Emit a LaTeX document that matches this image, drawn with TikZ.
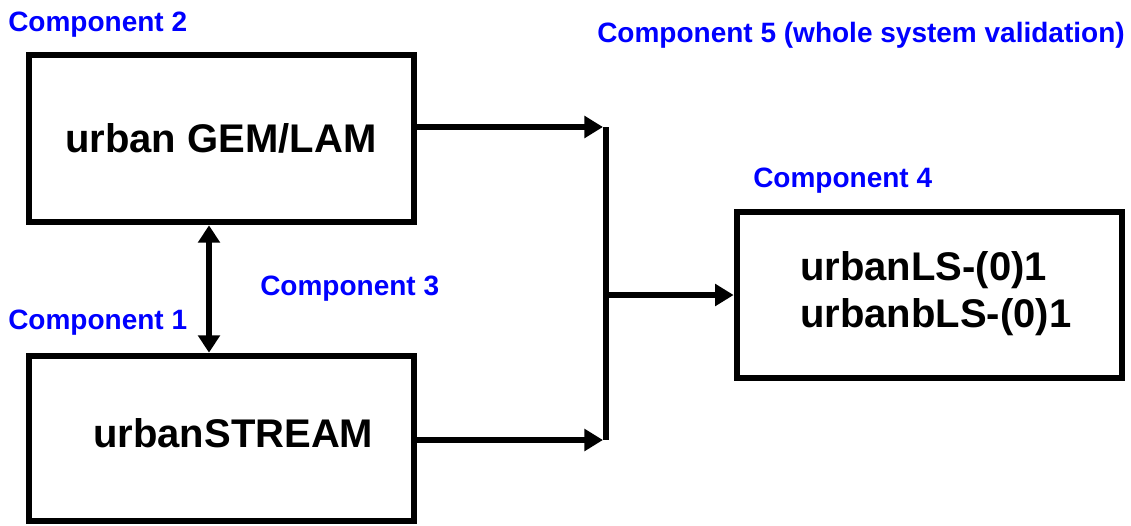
\documentclass[tikz,border=0pt]{standalone}
\usepackage{fontspec}
\setmainfont{Liberation Sans}
\usetikzlibrary{arrows.meta}
\begin{document}
\begin{tikzpicture}[x=0.75pt,y=-0.75pt,
  box/.style={draw=black,line width=5pt,inner sep=0pt,fill=white},
  tag/.style={anchor=base west,inner sep=0pt,text=blue,font=\fontsize{21}{25}\selectfont\bfseries},
  main/.style={anchor=base west,inner sep=0pt,font=\fontsize{30}{36}\selectfont\bfseries},
  link/.style={line width=5pt,-{Triangle[length=14pt,width=16pt]}},
  both/.style={line width=5pt,{Triangle[length=13pt,width=16pt]}-{Triangle[length=13pt,width=16pt]}}]
\useasboundingbox (0,0) rectangle (1131,525);

% blocks
\node[box,minimum width=288.75pt,minimum height=125.25pt] (gem) at (221.5,138.5) {};
\node[box,minimum width=288.75pt,minimum height=123.75pt] (stream) at (221.5,438.5) {};
\node[box,minimum width=288.75pt,minimum height=124.5pt] (ls) at (929.5,295) {};

% block texts
\node[main] (gemtxt) at (65,152) {urban GEM/LAM};
\node[main] (streamtxt) at (93,447) {urbanSTREAM};
\node[main] (lstxt) at (800,280) {urbanLS-(0)1};
\node[main] (blstxt) at (800,327) {urbanbLS-(0)1};

% component labels
\node[tag] (c2) at (8,31) {Component 2};
\node[tag] (c1) at (8,329) {Component 1};
\node[tag] (c3) at (260,295) {Component 3};
\node[tag] (c4) at (753,187) {Component 4};
\node[tag] (c5) at (597,42) {Component 5 (whole system validation)};

% junction bar
\coordinate (jtop) at (606,127);
\coordinate (jbot) at (606,440);
\coordinate (jmid) at (606,295);
\coordinate (tiptop) at (603,127);
\coordinate (tipbot) at (603,440);
\draw[line width=5pt] (jtop) -- (jbot);

% connectors
\draw[link] (gem.east |- jtop) -- (tiptop);
\draw[link] (stream.east |- jbot) -- (tipbot);
\draw[link] (jmid) -- (ls.west);
\coordinate (bx) at (209,0);
\draw[both] (gem.south -| bx) -- (stream.north -| bx);
\end{tikzpicture}
\end{document}
